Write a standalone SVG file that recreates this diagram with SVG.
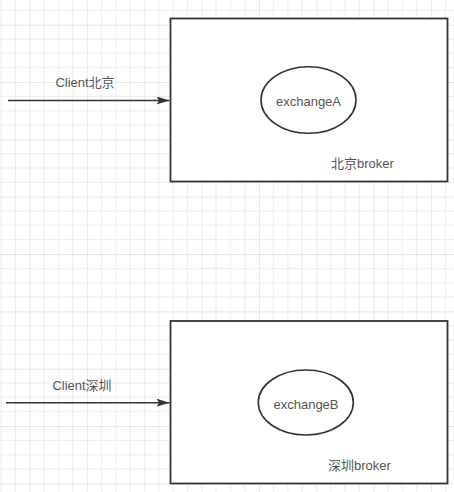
<svg xmlns="http://www.w3.org/2000/svg" width="454" height="492" viewBox="0 0 454 492">
  <style>
    .box { fill: #ffffff; stroke: #333333; stroke-width: 1.8; }
    .ell { fill: #ffffff; stroke: #333333; stroke-width: 1.6; }
    .lbl { font-family: "Liberation Sans", "Noto Sans CJK SC", sans-serif; font-size: 13px; fill: #555555; }
    .c { text-anchor: middle; dominant-baseline: central; }
    .conn { stroke: #333333; stroke-width: 1.5; fill: none; }
  </style>
  <defs>
    <pattern id="grid" patternUnits="userSpaceOnUse" x="29.7" y="24.7" width="57.33" height="57.33">
      <path d="M14.33 0V57.33M28.67 0V57.33M43 0V57.33M0 14.33H57.33M0 28.67H57.33M0 43H57.33" stroke="#ebebeb" stroke-width="1" fill="none"/>
      <path d="M0 0V57.33M0 0H57.33" stroke="#e0e0e0" stroke-width="1.3" fill="none"/>
    </pattern>
    <marker id="arrow" viewBox="0 0 13 8" refX="13" refY="4" markerWidth="13" markerHeight="8" markerUnits="userSpaceOnUse" orient="auto">
      <path d="M0 0L13 4L0 8L2.5 4Z" fill="#333333"/>
    </marker>
  </defs>
  <rect width="454" height="492" fill="#ffffff"/>
  <rect width="454" height="492" fill="url(#grid)"/>

  <g id="brokerBJ">
    <rect class="box" x="170.5" y="18.5" width="277" height="163"/>
    <text class="lbl c" x="362.5" y="163.5">北京broker</text>
  </g>
  <g id="exchangeA">
    <ellipse class="ell" cx="308.5" cy="100" rx="47.5" ry="33.3"/>
    <text class="lbl c" x="308.5" y="101.5">exchangeA</text>
  </g>
  <g id="brokerSZ">
    <rect class="box" x="170.5" y="321" width="277" height="162.5"/>
    <text class="lbl c" x="359.5" y="465">深圳broker</text>
  </g>
  <g id="exchangeB">
    <ellipse class="ell" cx="305.8" cy="402.5" rx="47.5" ry="32.5"/>
    <text class="lbl c" x="306" y="404">exchangeB</text>
  </g>

  <g id="connectors">
    <path class="conn" d="M8 100.5H169.5" marker-end="url(#arrow)"/>
    <text class="lbl c" x="85" y="82.5">Client北京</text>
    <path class="conn" d="M6 402.7H169.5" marker-end="url(#arrow)"/>
    <text class="lbl c" x="82" y="385.5">Client深圳</text>
  </g>
</svg>
